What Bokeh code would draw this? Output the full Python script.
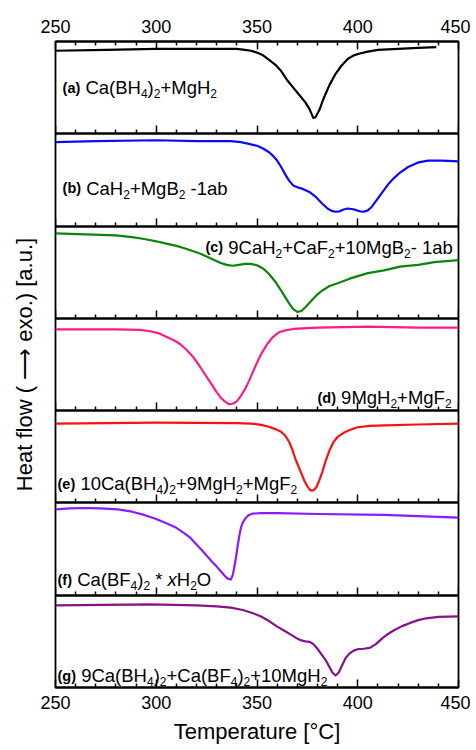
import numpy as np
from bokeh.plotting import figure
from bokeh.models import LinearAxis, FixedTicker, Range1d, ColumnDataSource
from bokeh.embed import file_html
from bokeh.resources import INLINE
from bokeh.core.properties import value

# ---------------- data (a.u. per panel) ----------------
T_a = [250, 275, 300, 320, 335, 340, 344, 347, 350, 353, 356, 359, 362, 365, 368, 371, 374, 376, 378, 379, 381, 383, 386, 389, 392, 395, 398, 401, 405, 410, 420, 430, 439]
v_a = [0.90, 0.91, 0.92, 0.92, 0.92, 0.92, 0.91, 0.90, 0.88, 0.85, 0.80, 0.75, 0.68, 0.58, 0.50, 0.42, 0.34, 0.27, 0.17, 0.18, 0.26, 0.38, 0.53, 0.65, 0.74, 0.81, 0.85, 0.87, 0.89, 0.91, 0.92, 0.93, 0.94]

T_b = [250, 270, 300, 320, 337, 342, 346, 350, 353, 356, 358, 360, 362, 364, 366, 368, 370, 373, 376, 379, 382, 385, 387, 389, 391, 393, 395, 397, 399, 401, 403, 405, 407, 409, 412, 415, 418, 421, 425, 430, 435, 442, 450]
v_b = [0.91, 0.92, 0.93, 0.92, 0.92, 0.91, 0.89, 0.87, 0.84, 0.80, 0.76, 0.71, 0.64, 0.56, 0.49, 0.44, 0.42, 0.40, 0.37, 0.32, 0.25, 0.19, 0.165, 0.155, 0.16, 0.18, 0.19, 0.185, 0.175, 0.16, 0.155, 0.17, 0.21, 0.27, 0.36, 0.45, 0.52, 0.58, 0.64, 0.69, 0.71, 0.71, 0.70]

T_c = [250, 265, 280, 288, 294, 300, 305, 310, 314, 318, 322, 326, 329, 332, 335, 338, 341, 344, 347, 350, 353, 356, 359, 362, 364, 366, 368, 370, 372, 374, 377, 380, 383, 386, 390, 396, 405, 413, 421, 430, 438, 450]
v_c = [0.92, 0.91, 0.90, 0.88, 0.86, 0.835, 0.81, 0.785, 0.76, 0.73, 0.70, 0.66, 0.63, 0.60, 0.58, 0.57, 0.58, 0.59, 0.59, 0.575, 0.54, 0.48, 0.40, 0.30, 0.23, 0.16, 0.10, 0.07, 0.08, 0.12, 0.19, 0.26, 0.31, 0.35, 0.38, 0.43, 0.49, 0.52, 0.56, 0.58, 0.61, 0.63]

T_d = [250, 280, 292, 297, 301, 305, 309, 312, 315, 318, 321, 324, 327, 330, 332, 334, 336, 338, 340, 342, 344, 346, 348, 350, 352, 355, 358, 361, 364, 368, 380, 405, 430, 450]
v_d = [0.88, 0.88, 0.875, 0.86, 0.84, 0.80, 0.76, 0.72, 0.66, 0.59, 0.50, 0.40, 0.30, 0.20, 0.14, 0.10, 0.07, 0.075, 0.10, 0.16, 0.23, 0.32, 0.42, 0.52, 0.61, 0.72, 0.80, 0.85, 0.87, 0.885, 0.90, 0.91, 0.90, 0.90]

T_e = [250, 300, 340, 347, 352, 356, 359, 362, 364, 366, 367.5, 369, 370.5, 372, 373.5, 375, 376.5, 378, 379.5, 381, 382.5, 384, 386, 388, 390, 393, 396, 400, 406, 413, 430, 450]
v_e = [0.86, 0.87, 0.865, 0.86, 0.845, 0.825, 0.80, 0.77, 0.73, 0.66, 0.58, 0.48, 0.40, 0.32, 0.24, 0.18, 0.135, 0.135, 0.17, 0.25, 0.34, 0.45, 0.57, 0.66, 0.715, 0.76, 0.79, 0.82, 0.835, 0.84, 0.85, 0.86]

T_f = [250, 257, 264, 272, 281, 288, 294, 300, 305, 310, 314, 317, 320, 323, 327, 330, 332, 334, 335.5, 337, 338, 338.7, 339.5, 340.3, 341.2, 342, 343, 344.5, 346, 348, 352, 360, 380, 413, 450]
v_f = [0.93, 0.94, 0.945, 0.94, 0.93, 0.905, 0.87, 0.825, 0.78, 0.73, 0.67, 0.62, 0.55, 0.48, 0.38, 0.31, 0.26, 0.21, 0.18, 0.17, 0.22, 0.30, 0.40, 0.52, 0.64, 0.73, 0.79, 0.84, 0.87, 0.885, 0.89, 0.89, 0.88, 0.87, 0.84]

T_g = [250, 297, 320, 330, 337, 343, 348, 352, 356, 360, 364, 367, 370, 372, 374, 376, 378, 380, 382, 384, 386, 387.5, 389, 390.5, 392, 394, 396, 398, 400, 403, 406, 409, 412, 415, 418, 422, 426, 430, 434, 440, 450]
v_g = [0.89, 0.90, 0.89, 0.88, 0.865, 0.84, 0.805, 0.77, 0.72, 0.66, 0.61, 0.57, 0.53, 0.51, 0.50, 0.495, 0.47, 0.42, 0.36, 0.30, 0.22, 0.16, 0.13, 0.16, 0.23, 0.32, 0.37, 0.40, 0.415, 0.42, 0.43, 0.47, 0.53, 0.58, 0.62, 0.665, 0.70, 0.73, 0.75, 0.765, 0.77]

panels = ["a", "b", "c", "d", "e", "f", "g"]          # top to bottom
series = {"a": (T_a, v_a), "b": (T_b, v_b), "c": (T_c, v_c), "d": (T_d, v_d),
          "e": (T_e, v_e), "f": (T_f, v_f), "g": (T_g, v_g)}
colors = {"a": "#000000", "b": "#0a0aff", "c": "#0b840b", "d": "#ff1a8c",
          "e": "#ff0f0f", "f": "#8a1aff", "g": "#85128a"}

# labels: runs of (text, kind); kinds: B = bold tag, N = normal, S = subscript, I = italic
labels = {
    "a": [("(a)", "B"), (" Ca(BH", "N"), ("4", "S"), (")", "N"), ("2", "S"), ("+MgH", "N"), ("2", "S")],
    "b": [("(b)", "B"), (" CaH", "N"), ("2", "S"), ("+MgB", "N"), ("2", "S"), (" -1ab", "N")],
    "c": [("(c)", "B"), (" 9CaH", "N"), ("2", "S"), ("+CaF", "N"), ("2", "S"), ("+10MgB", "N"), ("2", "S"), ("- 1ab", "N")],
    "d": [("(d)", "B"), (" 9MgH", "N"), ("2", "S"), ("+MgF", "N"), ("2", "S")],
    "e": [("(e)", "B"), (" 10Ca(BH", "N"), ("4", "S"), (")", "N"), ("2", "S"), ("+9MgH", "N"), ("2", "S"), ("+MgF", "N"), ("2", "S")],
    "f": [("(f)", "B"), (" Ca(BF", "N"), ("4", "S"), (")", "N"), ("2", "S"), (" * ", "N"), ("x", "I"), ("H", "N"), ("2", "S"), ("O", "N")],
    "g": [("(g)", "B"), (" 9Ca(BH", "N"), ("4", "S"), (")", "N"), ("2", "S"), ("+Ca(BF", "N"), ("4", "S"), (")", "N"), ("2", "S"), ("+10MgH", "N"), ("2", "S")],
}
# label anchor (temperature, height inside panel)
label_pos = {"a": (253.5, 0.50), "b": (253.5, 0.41), "c": (324.4, 0.77), "d": (380.0, 0.14),
             "e": (251.0, 0.21), "f": (251.0, 0.17), "g": (251.0, 0.13)}

x_major = [250, 300, 350, 400, 450]
x_minor = [260, 270, 280, 290, 310, 320, 330, 340, 360, 370, 380, 390, 410, 420, 430, 440]

FONT = "Liberation Sans"
SIZES = {"B": 14.5, "N": 18.5, "S": 12.0, "I": 18.5}
SUB_DROP = 6.0

# Arial / Liberation Sans advance widths (1/1000 em)
W_REG = {" ": 278, "(": 333, ")": 333, "*": 389, "+": 584, "-": 333, ".": 278,
         "C": 722, "B": 667, "F": 611, "H": 722, "M": 833, "O": 778,
         "a": 556, "b": 556, "g": 556, "x": 500}
W_BOLD = {"(": 333, ")": 333, "a": 556, "b": 611, "c": 556, "d": 611, "e": 556, "f": 333, "g": 611}


def run_width(text, kind):
    table = W_BOLD if kind == "B" else W_REG
    tot = 0
    for ch in text:
        tot += 556 if ch.isdigit() else table.get(ch, 556)
    return tot / 1000.0 * SIZES[kind]


# ---------------- figure ----------------
p = figure(width=470, height=748, x_range=Range1d(250, 450), y_range=Range1d(0, 7),
           output_backend="svg", toolbar_location=None,
           min_border_left=55, min_border_right=12, min_border_top=41, min_border_bottom=61)
p.grid.visible = False
p.outline_line_color = "black"
p.outline_line_width = 1.8
p.background_fill_color = "white"
p.border_fill_color = "white"


def style_ticks(ax):
    ax.major_tick_in = 8
    ax.major_tick_out = 0
    ax.minor_tick_in = 4
    ax.minor_tick_out = 0
    ax.major_tick_line_width = 1.5
    ax.minor_tick_line_width = 1.5
    ax.major_tick_line_color = "black"
    ax.minor_tick_line_color = "black"
    ax.axis_line_color = "black"
    ax.axis_line_width = 1.8


def style_labels(ax):
    ax.ticker = FixedTicker(ticks=x_major, minor_ticks=x_minor)
    ax.major_label_text_font = FONT
    ax.major_label_text_font_size = "18px"
    ax.major_label_text_color = "black"


bottom = p.xaxis[0]
style_ticks(bottom)
style_labels(bottom)
bottom.major_label_standoff = 8
bottom.axis_label = "Temperature [°C]"
bottom.axis_label_text_font = FONT
bottom.axis_label_text_font_size = "22px"
bottom.axis_label_text_font_style = "normal"
bottom.axis_label_text_color = "black"
bottom.axis_label_standoff = 7

top = LinearAxis()
style_ticks(top)
style_labels(top)
top.major_label_standoff = 9
p.add_layout(top, "above")

# panel separators with inward ticks (long ticks at the labelled temperatures, short in between)
for k in range(1, len(panels)):
    long_ax = LinearAxis(fixed_location=k, ticker=FixedTicker(ticks=[], minor_ticks=x_major))
    style_ticks(long_ax)
    long_ax.minor_tick_in = 8
    p.add_layout(long_ax, "below")
    short_ax = LinearAxis(fixed_location=k, ticker=FixedTicker(ticks=[], minor_ticks=x_minor))
    style_ticks(short_ax)
    short_ax.minor_tick_in = 4
    p.add_layout(short_ax, "below")

yax = p.yaxis[0]
yax.ticker = FixedTicker(ticks=[])
yax.axis_line_color = None
yax.major_tick_in = 0
yax.major_tick_out = 0
yax.minor_tick_in = 0
yax.minor_tick_out = 0
yax.major_label_standoff = 0
yax.axis_label = "Heat flow ( \u27f6 exo.) [a.u.]"
yax.axis_label_text_font = FONT
yax.axis_label_text_font_size = "22px"
yax.axis_label_text_font_style = "normal"
yax.axis_label_text_color = "black"
yax.axis_label_standoff = 19

# curves
for i, key in enumerate(panels):
    off = len(panels) - 1 - i
    T, v = series[key]
    p.line(T, np.array(v) + off, line_color=colors[key], line_width=2.2, line_join="round")

# labels (leading / trailing spaces become offsets, since SVG collapses them)
runs = {k: dict(x=[], y=[], text=[], dx=[], dy=[]) for k in "BNSI"}
for i, key in enumerate(panels):
    off = len(panels) - 1 - i
    x0, y0 = label_pos[key]
    dx = 0.0
    for text, kind in labels[key]:
        lead = len(text) - len(text.lstrip(" "))
        trail = len(text) - len(text.rstrip(" "))
        core = text.strip(" ")
        dx += run_width(" " * lead, "N")
        d = runs[kind]
        d["x"].append(x0)
        d["y"].append(y0 + off)
        d["text"].append(core)
        d["dx"].append(dx)
        d["dy"].append(SUB_DROP if kind == "S" else 0.0)
        dx += run_width(core, kind)
        dx += run_width(" " * trail, "N")

for kind, d in runs.items():
    style = {"B": "bold", "N": "normal", "S": "normal", "I": "italic"}[kind]
    p.text(x="x", y="y", text="text", x_offset="dx", y_offset="dy",
           source=ColumnDataSource(d), text_font=value(FONT),
           text_font_size=value(f"{SIZES[kind]}px"), text_font_style=style,
           text_baseline="alphabetic", text_align="left", text_color="black")

open("out.html", "w").write(file_html(p, INLINE))
